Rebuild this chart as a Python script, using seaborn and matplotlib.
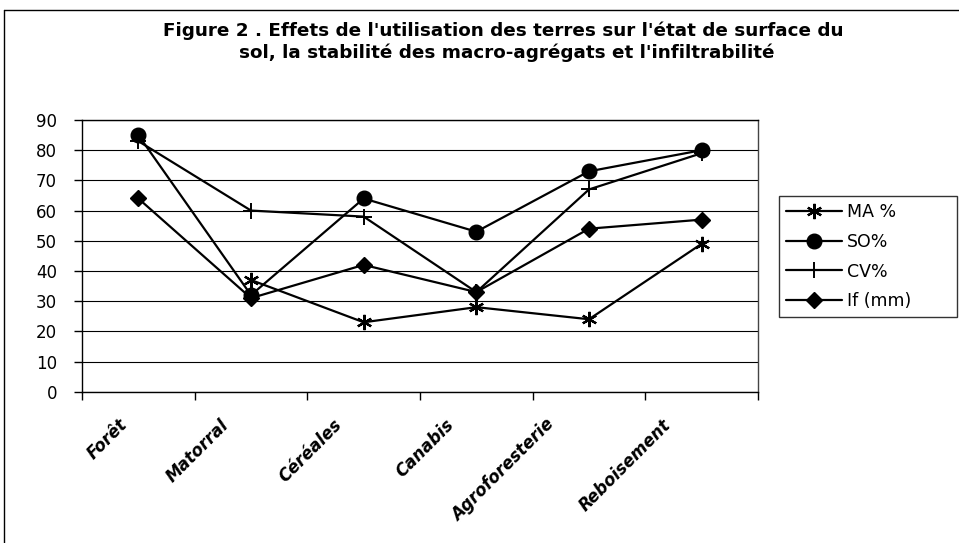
import numpy as np
import pandas as pd
import matplotlib
matplotlib.use("Agg")
import matplotlib.pyplot as plt
import seaborn as sns
from matplotlib.transforms import ScaledTranslation
from matplotlib.lines import Line2D

# ---- data ----
categories = ["Forêt", "Matorral", "Céréales", "Canabis", "Agroforesterie", "Reboisement"]
ma_pct = [np.nan, 37, 23, 28, 24, 49]
so_pct = [85, 32, 64, 53, 73, 80]
cv_pct = [83, 60, 58, 33, 67, 79]
if_mm = [64, 31, 42, 33, 54, 57]
series_names = ["MA %", "SO%", "CV%", "If (mm)"]
yticks = list(range(0, 91, 10))
title_lines = ["Figure 2 . Effets de l'utilisation des terres sur l'état de surface du",
               "sol, la stabilité des macro-agrégats et l'infiltrabilité"]

sns.set_theme(style="white")
plt.rcParams['font.family'] = ['DejaVu Sans']
plt.rcParams.update({"text.color": "black", "axes.labelcolor": "black",
                     "xtick.color": "black", "ytick.color": "black"})

W, H = 959, 543
fig = plt.figure(figsize=(W / 100, H / 100), dpi=100)
fig.patch.set_facecolor("white")
ax = fig.add_axes([82 / W, 1 - 391.7 / H, (758 - 82) / W, (391.7 - 120) / H])

xpos = np.arange(len(categories))
marker_specs = [
    dict(marker=(6, 2, 0), markersize=11, markeredgewidth=1.6),
    dict(marker="o", markersize=10.5, markeredgewidth=1.0),
    dict(marker="+", markersize=12, markeredgewidth=1.4),
    dict(marker="D", markersize=8.5, markeredgewidth=1.0),
]
all_vals = [ma_pct, so_pct, cv_pct, if_mm]
handles = []
for name, vals, spec in zip(series_names, all_vals, marker_specs):
    df = pd.DataFrame({"x": xpos, "y": vals}).dropna()
    sns.lineplot(data=df, x="x", y="y", ax=ax, color="black", linewidth=1.6,
                 markerfacecolor="black", markeredgecolor="black",
                 legend=False, zorder=3, **spec)
    handles.append(Line2D([0], [0], color="black", linewidth=1.6,
                          markerfacecolor="black", markeredgecolor="black", **spec))

ax.set_xlim(-0.5, len(categories) - 0.5)
ax.set_ylim(0, 90)
ax.set_yticks(yticks)
ax.set_yticklabels([str(v) for v in yticks], fontsize=12)
ax.yaxis.grid(True, color="black", linewidth=0.8)
ax.set_axisbelow(True)
ax.set_xlabel("")
ax.set_ylabel("")

for s in ax.spines.values():
    s.set_visible(True)
    s.set_color("black")
    s.set_linewidth(1.0)
ax.spines["right"].set_color("#444444")

ax.tick_params(axis="y", direction="out", length=6, width=1, color="black", pad=12, left=True)
ax.set_xticks(np.arange(-0.5, len(categories), 1.0))
ax.set_xticklabels([])
ax.tick_params(axis="x", which="major", direction="out", length=6, width=1, color="black", bottom=True)
ax.set_xticks(xpos, minor=True)
ax.set_xticklabels(categories, minor=True, rotation=45, ha="right", va="top",
                   rotation_mode="anchor", fontsize=12, fontweight="bold", fontstyle="italic")
ax.tick_params(axis="x", which="minor", length=0, pad=0)
label_dx = [-20, -31, -31, -31, -44, -40]  # pixel shift of each rotated label end
for lbl, dx in zip(ax.get_xticklabels(minor=True), label_dx):
    lbl.set_transform(lbl.get_transform() + ScaledTranslation(dx / 100, -24 / 100, fig.dpi_scale_trans))

# title
fig.text(503 / W, 1 - 31 / H, title_lines[0], ha="center", va="center",
         fontsize=13.2, fontweight="bold")
fig.text(507 / W, 1 - 53 / H, title_lines[1], ha="center", va="center",
         fontsize=13.2, fontweight="bold")

# legend
leg = fig.legend(handles, series_names, loc="upper left",
                 bbox_to_anchor=(779 / W, 1 - 316 / H, (957 - 779) / W, 120 / H),
                 mode="expand", frameon=True, fancybox=False,
                 edgecolor="black", fontsize=12.5, handlelength=3.2, labelspacing=0.68,
                 borderpad=0.4, borderaxespad=0, handletextpad=0.3)
leg.get_frame().set_linewidth(1.0)

# outer chart frame
fig.add_artist(Line2D([4 / W, 4 / W], [0, 1 - 10 / H], transform=fig.transFigure,
                      color="black", linewidth=1.0))
fig.add_artist(Line2D([4 / W, 1], [1 - 10 / H, 1 - 10 / H], transform=fig.transFigure,
                      color="black", linewidth=1.0))

fig.savefig("out.png", dpi=100)
